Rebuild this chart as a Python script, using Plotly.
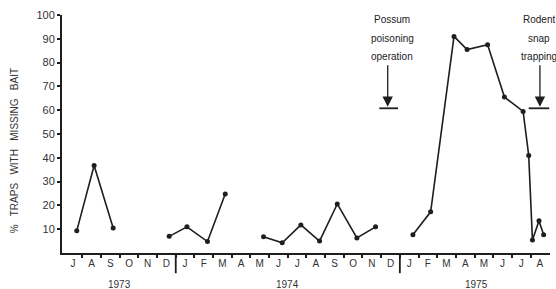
import plotly.graph_objects as go

# Sample time (month index from Jul 1973 = 0) and % traps with missing bait
sample_month = [0.2, 1.13, 2.15, None, 5.15, 6.1, 7.2, 8.15, None,
                10.2, 11.2, 12.2, 13.2, 14.15, 15.2, 16.2, None,
                18.2, 19.15, 20.4, 21.1, 22.2, 23.1, 24.1, 24.4, 24.6, 24.95, 25.2]
pct_missing = [9.3, 36.8, 10.5, None, 7, 11, 4.8, 24.8, None,
               6.8, 4.3, 11.8, 5, 20.6, 6.3, 11, None,
               7.7, 17.3, 91, 85.5, 87.5, 65.5, 59.5, 41, 5.5, 13.5, 7.7]

month_labels = ["J", "A", "S", "O", "N", "D",
                "J", "F", "M", "A", "M", "J", "J", "A", "S", "O", "N", "D",
                "J", "F", "M", "A", "M", "J", "J", "A"]
month_pos = list(range(len(month_labels)))
year_labels = ["1973", "1974", "1975"]
year_pos = [2.5, 11.5, 21.6]
year_dividers = [5.5, 17.5]
y_ticks = [10, 20, 30, 40, 50, 60, 70, 80, 90, 100]

# events: label lines, arrow x, bar extent, level
events = [
    {"lines": ["Possum", "poisoning", "operation"], "tx": 17.1, "ax": 16.85, "bar": (16.4, 17.4)},
    {"lines": ["Rodent", "snap", "trapping"], "tx": 24.95, "ax": 25.0, "bar": (24.4, 25.5)},
]
event_level = 60.8
event_top = 79.5
text_rows = [98.3, 90.3, 82.4]

ink = "#1e1e1e"
font = "Liberation Sans, Arial, sans-serif"

fig = go.Figure()
fig.add_trace(go.Scatter(
    x=sample_month, y=pct_missing, mode="lines+markers",
    line=dict(color=ink, width=1.6),
    marker=dict(color=ink, size=5),
    connectgaps=False, showlegend=False, cliponaxis=False,
))

shapes = []
for d in year_dividers:
    shapes.append(dict(type="line", xref="x", yref="paper", x0=d, x1=d, y0=0, y1=-0.085,
                       line=dict(color=ink, width=1.8)))
annotations = []
for lab, p in zip(year_labels, year_pos):
    annotations.append(dict(x=p, y=-0.165, xref="x", yref="paper", text=lab, showarrow=False,
                            font=dict(family=font, size=10, color="#333")))
for ev in events:
    for line, yy in zip(ev["lines"], text_rows):
        annotations.append(dict(x=ev["tx"], y=yy, xref="x", yref="y", text=line, showarrow=False,
                                font=dict(family=font, size=10, color="#222")))
    annotations.append(dict(x=ev["ax"], y=event_level + 0.6, xref="x", yref="y",
                            ax=ev["ax"], ay=event_top, axref="x", ayref="y",
                            text="", showarrow=True, arrowhead=2, arrowsize=1.6,
                            arrowwidth=1.3, arrowcolor=ink))
    shapes.append(dict(type="line", xref="x", yref="y", x0=ev["bar"][0], x1=ev["bar"][1],
                       y0=event_level, y1=event_level, line=dict(color=ink, width=1.8)))

annotations.append(dict(x=-0.097, y=0.43, xref="paper", yref="paper",
                        text="%\u00a0\u00a0 TRAPS\u00a0\u00a0 WITH\u00a0\u00a0 MISSING\u00a0\u00a0 BAIT",
                        textangle=-90, showarrow=False, xanchor="center", yanchor="middle",
                        font=dict(family=font, size=10, color="#333")))

fig.update_layout(
    width=556, height=289,
    margin=dict(l=62, r=6, t=15, b=36),
    paper_bgcolor="white", plot_bgcolor="white",
    shapes=shapes, annotations=annotations,
    xaxis=dict(range=[-0.59, 25.54], tickmode="array", tickvals=month_pos, ticktext=month_labels,
               ticks="outside", ticklen=0, showgrid=False, zeroline=False,
               showline=True, linecolor=ink, linewidth=2,
               tickfont=dict(family=font, size=10, color="#333"),
               minor=dict(tickmode="array", tickvals=[p + 0.5 for p in month_pos[:-1]],
                          ticks="outside", ticklen=3, tickwidth=1.5, tickcolor=ink, showgrid=False)),
    yaxis=dict(range=[0, 100], tickmode="array", tickvals=y_ticks, ticks="outside", ticklen=3,
               tickwidth=1.5, tickcolor=ink, showgrid=False, zeroline=False,
               showline=True, linecolor=ink, linewidth=2,
               tickfont=dict(family=font, size=11, color="#333")),
)

fig.write_html("out.html", config={"displayModeBar": False},
               post_script="document.body.style.margin='0';document.body.style.overflow='hidden';")
